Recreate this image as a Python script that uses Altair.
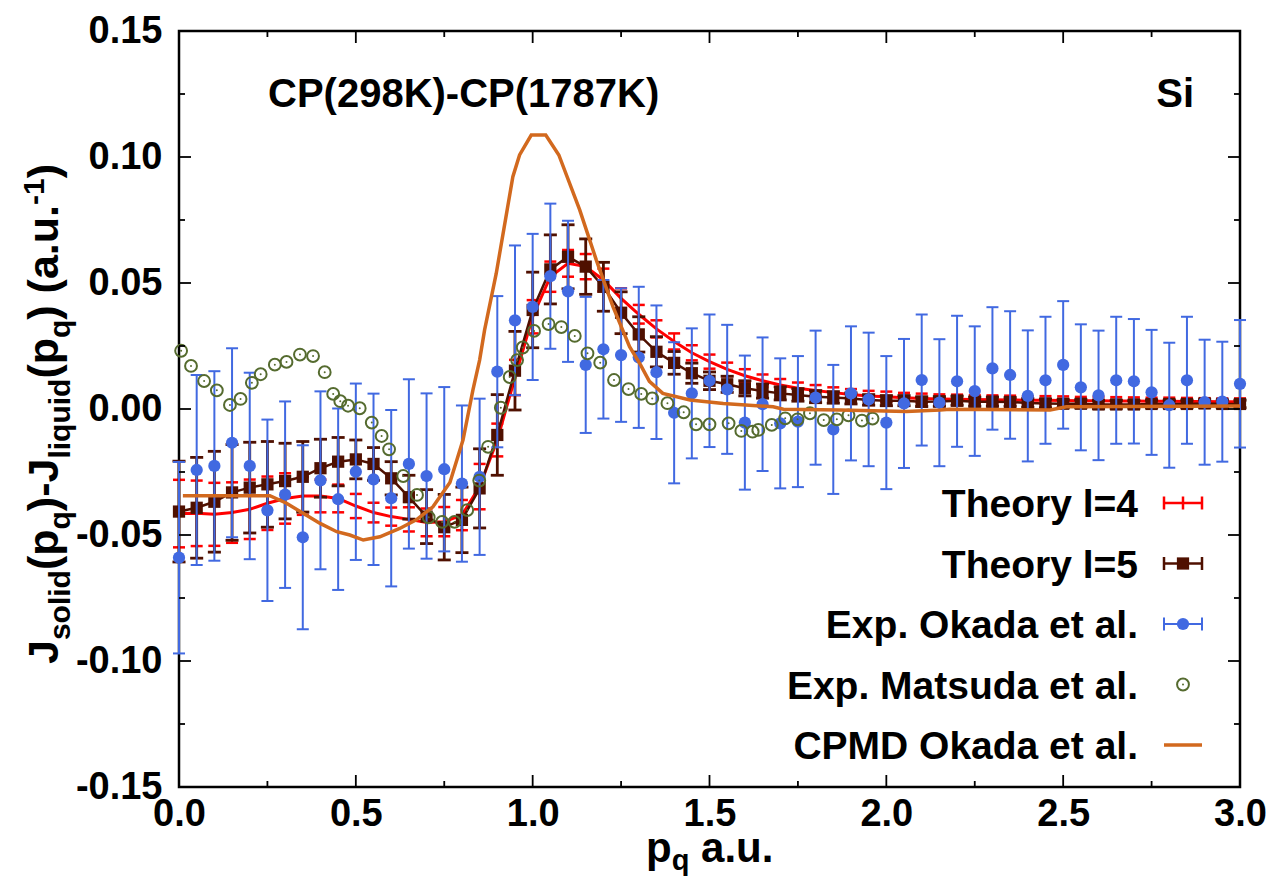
import altair as alt
import pandas as pd

# ---------------- data ----------------
P = [0.00, 0.05, 0.10, 0.15, 0.20, 0.25, 0.30, 0.35, 0.40, 0.45,
     0.50, 0.55, 0.60, 0.65, 0.70, 0.75, 0.80, 0.85, 0.90, 0.95,
     1.00, 1.05, 1.10, 1.15, 1.20, 1.25, 1.30, 1.35, 1.40, 1.45,
     1.50, 1.55, 1.60, 1.65, 1.70, 1.75, 1.80, 1.85, 1.90, 1.95,
     2.00, 2.05, 2.10, 2.15, 2.20, 2.25, 2.30, 2.35, 2.40, 2.45,
     2.50, 2.55, 2.60, 2.65, 2.70, 2.75, 2.80, 2.85, 2.90, 2.95,
     3.00]

okada_y = [-0.0590, -0.0242, -0.0226, -0.0134, -0.0226, -0.0402, -0.0340, -0.0509, -0.0283, -0.0358,
           -0.0249, -0.0279, -0.0354, -0.0218, -0.0266, -0.0239, -0.0296, -0.0269, 0.0148, 0.0352,
           0.0405, 0.0527, 0.0467, 0.0175, 0.0237, 0.0214, 0.0205, 0.0146, -0.0015, 0.0062,
           0.0112, 0.0078, -0.0054, 0.0019, -0.0057, -0.0050, 0.0045, -0.0081, 0.0062, 0.0038,
           -0.0054, 0.0022, 0.0115, 0.0025, 0.0110, 0.0071, 0.0161, 0.0135, 0.0052, 0.0114,
           0.0175, 0.0086, 0.0054, 0.0114, 0.0110, 0.0066, 0.0015, 0.0114, 0.0027, 0.0029,
           0.0100]
okada_err = [0.0380, 0.0377, 0.0376, 0.0375, 0.0370, 0.0360, 0.0370, 0.0365, 0.0353, 0.0360,
             0.0350, 0.0340, 0.0350, 0.0336, 0.0328, 0.0326, 0.0310, 0.0310, 0.0300, 0.0297,
             0.0290, 0.0288, 0.0280, 0.0270, 0.0275, 0.0265, 0.0280, 0.0265, 0.0280, 0.0258,
             0.0263, 0.0256, 0.0266, 0.0265, 0.0258, 0.0260, 0.0266, 0.0256, 0.0266, 0.0265,
             0.0264, 0.0256, 0.0260, 0.0252, 0.0260, 0.0257, 0.0243, 0.0253, 0.0260, 0.0252,
             0.0253, 0.0250, 0.0257, 0.0252, 0.0247, 0.0248, 0.0248, 0.0252, 0.0248, 0.0238,
             0.0253]

th4_y = [-0.0415, -0.0414, -0.0418, -0.0411, -0.0398, -0.0374, -0.0355, -0.0345, -0.0345, -0.0355,
         -0.0385, -0.0411, -0.0427, -0.0438, -0.0450, -0.0447, -0.0421, -0.0308, -0.0123, 0.0125,
         0.0366, 0.0525, 0.0578, 0.0565, 0.0512, 0.0439, 0.0376, 0.0318, 0.0268, 0.0223,
         0.0188, 0.0157, 0.0132, 0.0112, 0.0095, 0.0082, 0.0073, 0.0065, 0.0058, 0.0052,
         0.0049, 0.0045, 0.0042, 0.0040, 0.0039, 0.0038, 0.0037, 0.0036, 0.0035, 0.0035,
         0.0034, 0.0033, 0.0033, 0.0032, 0.0032, 0.0031, 0.0031, 0.0030, 0.0030, 0.0029,
         0.0029]
th4_err = [0.0134, 0.0130, 0.0125, 0.0120, 0.0118, 0.0106, 0.0100, 0.0075, 0.0065, 0.0055,
           0.0048, 0.0039, 0.0036, 0.0048, 0.0055, 0.0058, 0.0060, 0.0090, 0.0065, 0.0070,
           0.0066, 0.0060, 0.0053, 0.0050, 0.0045, 0.0040, 0.0037, 0.0034, 0.0032, 0.0030,
           0.0028, 0.0027, 0.0026, 0.0025, 0.0024, 0.0023, 0.0022, 0.0021, 0.0021, 0.0020,
           0.0020, 0.0019, 0.0019, 0.0018, 0.0018, 0.0017, 0.0017, 0.0017, 0.0016, 0.0016,
           0.0016, 0.0015, 0.0015, 0.0015, 0.0014, 0.0014, 0.0014, 0.0014, 0.0013, 0.0013,
           0.0013]

th5_y = [-0.0407, -0.0392, -0.0368, -0.0331, -0.0312, -0.0299, -0.0286, -0.0269, -0.0235, -0.0209,
         -0.0200, -0.0218, -0.0275, -0.0350, -0.0427, -0.0469, -0.0440, -0.0315, -0.0103, 0.0152,
         0.0393, 0.0554, 0.0604, 0.0565, 0.0485, 0.0382, 0.0296, 0.0227, 0.0183, 0.0142,
         0.0112, 0.0098, 0.0082, 0.0071, 0.0062, 0.0056, 0.0049, 0.0046, 0.0042, 0.0036,
         0.0033, 0.0033, 0.0029, 0.0030, 0.0033, 0.0029, 0.0029, 0.0028, 0.0024, 0.0022,
         0.0021, 0.0021, 0.0018, 0.0018, 0.0018, 0.0020, 0.0020, 0.0020, 0.0022, 0.0020,
         0.0020]
th5_err = [0.0200, 0.0200, 0.0200, 0.0190, 0.0180, 0.0170, 0.0150, 0.0140, 0.0115, 0.0096,
           0.0077, 0.0065, 0.0066, 0.0087, 0.0107, 0.0130, 0.0130, 0.0157, 0.0160, 0.0156,
           0.0150, 0.0137, 0.0127, 0.0110, 0.0097, 0.0083, 0.0070, 0.0060, 0.0045, 0.0040,
           0.0035, 0.0032, 0.0030, 0.0028, 0.0026, 0.0025, 0.0024, 0.0023, 0.0022, 0.0021,
           0.0020, 0.0020, 0.0019, 0.0019, 0.0018, 0.0018, 0.0018, 0.0017, 0.0017, 0.0017,
           0.0016, 0.0016, 0.0016, 0.0016, 0.0015, 0.0015, 0.0015, 0.0015, 0.0015, 0.0015,
           0.0015]

mat_x = [0.006, 0.034, 0.071, 0.107, 0.144, 0.174, 0.206, 0.231, 0.271, 0.304,
         0.342, 0.379, 0.412, 0.436, 0.456, 0.478, 0.511, 0.545, 0.573, 0.594,
         0.634, 0.673, 0.706, 0.744, 0.779, 0.815, 0.849, 0.874, 0.910, 0.935,
         0.956, 0.972, 1.004, 1.045, 1.081, 1.119, 1.155, 1.191, 1.230, 1.271,
         1.307, 1.338, 1.381, 1.427, 1.462, 1.500, 1.554, 1.590, 1.622, 1.638,
         1.676, 1.714, 1.749, 1.784, 1.823, 1.860, 1.893, 1.931, 1.961]
mat_y = [0.0231, 0.0171, 0.0111, 0.0074, 0.0016, 0.0040, 0.0104, 0.0138, 0.0176, 0.0187,
         0.0216, 0.0210, 0.0146, 0.0060, 0.0031, 0.0013, 0.0003, -0.0054, -0.0107, -0.0160,
         -0.0266, -0.0341, -0.0430, -0.0448, -0.0448, -0.0401, -0.0284, -0.0150, 0.0005, 0.0127,
         0.0194, 0.0244, 0.0310, 0.0337, 0.0325, 0.0290, 0.0221, 0.0184, 0.0115, 0.0079,
         0.0060, 0.0042, 0.0023, -0.0013, -0.0061, -0.0061, -0.0057, -0.0087, -0.0090, -0.0083,
         -0.0063, -0.0037, -0.0041, -0.0017, -0.0044, -0.0041, -0.0025, -0.0046, -0.0038]

cpmd_x = [0.011, 0.257, 0.304, 0.351, 0.399, 0.446, 0.483, 0.521, 0.568, 0.624,
          0.671, 0.718, 0.766, 0.803, 0.831, 0.850, 0.864, 0.897, 0.944, 0.963,
          0.996, 1.037, 1.074, 1.133, 1.180, 1.227, 1.274, 1.305, 1.330, 1.368,
          1.445, 1.539, 1.680, 1.709, 1.869, 2.057, 2.152, 2.180, 2.463, 2.509,
          2.850, 3.000]
cpmd_y = [-0.0344, -0.0344, -0.0374, -0.0414, -0.0454, -0.0487, -0.0500, -0.0520, -0.0507, -0.0474,
          -0.0440, -0.0388, -0.0292, -0.0123, 0.0075, 0.0194, 0.0313, 0.0538, 0.0922, 0.1008,
          0.1087, 0.1087, 0.1008, 0.0790, 0.0591, 0.0406, 0.0247, 0.0175, 0.0110, 0.0062,
          0.0036, 0.0022, 0.0009, -0.0001, -0.0004, -0.0010, -0.0004, -0.0001, -0.0004, 0.0009,
          0.0011, 0.0012]

x_major = [0.0, 0.5, 1.0, 1.5, 2.0, 2.5, 3.0]
x_minor = [0.25, 0.75, 1.25, 1.75, 2.25, 2.75]
y_major = [-0.15, -0.10, -0.05, 0.0, 0.05, 0.10, 0.15]
y_minor = [-0.125, -0.075, -0.025, 0.025, 0.075, 0.125]

legend_labels = ["Theory l=4", "Theory l=5", "Exp. Okada et al.",
                 "Exp. Matsuda et al.", "CPMD Okada et al."]

# ---------------- styling ----------------
FONT = "Liberation Sans, Arial, Helvetica, sans-serif"
RED = "#ff0000"
BROWN = "#4f1000"
BLUE = "#4169e1"
GREEN = "#556b2f"
ORANGE = "#d2691e"

OX, OY = 179, 31          # plot origin inside the page
W, H = 1061, 756
xs = alt.Scale(domain=[0, 3], nice=False, zero=False)
ys = alt.Scale(domain=[-0.15, 0.15], nice=False, zero=False)

xaxis = alt.Axis(values=x_major, format=".1f", title="", grid=False, ticks=False,
                 domain=False, labelFont=FONT, labelFontSize=38, labelFontWeight="bold",
                 labelColor="black", labelPadding=8, labelFlush=False, labelOverlap=False)
yaxis = alt.Axis(values=y_major, title="", grid=False, ticks=False, domain=False,
                 labelExpr="datum.value < 0 ? '-' + format(-datum.value, '.2f') : format(datum.value, '.2f')",
                 labelFont=FONT, labelFontSize=38, labelFontWeight="bold",
                 labelColor="black", labelPadding=17, labelFlush=False, labelOverlap=False)


def X(f):
    return alt.X(f"{f}:Q", scale=xs, axis=xaxis)


def Y(f):
    return alt.Y(f"{f}:Q", scale=ys, axis=yaxis)


def frame(x, y, err):
    return pd.DataFrame({"x": x, "y": y,
                         "lo": [a - b for a, b in zip(y, err)],
                         "hi": [a + b for a, b in zip(y, err)]})


def caps(df):
    return pd.DataFrame({"x": list(df["x"]) * 2, "y": list(df["lo"]) + list(df["hi"])})


CAP = "M-1,0L1,0"

d4 = frame(P, th4_y, th4_err)
d5 = frame(P, th5_y, th5_err)
dok = frame(P, okada_y, okada_err)
dmat = pd.DataFrame({"x": mat_x, "y": mat_y})
dcp = pd.DataFrame({"x": cpmd_x, "y": cpmd_y})

layers = []

# Theory l=4
layers.append(alt.Chart(d4).mark_rule(color=RED, strokeWidth=2).encode(x=X("x"), y=Y("lo"), y2=alt.Y2("hi")))
layers.append(alt.Chart(caps(d4)).mark_point(shape=CAP, size=144, filled=False, color=RED,
                                             strokeWidth=2.5, opacity=1).encode(x=X("x"), y=Y("y")))
layers.append(alt.Chart(d4).mark_line(color=RED, strokeWidth=3).encode(x=X("x"), y=Y("y")))
# Theory l=5
layers.append(alt.Chart(d5).mark_rule(color=BROWN, strokeWidth=2.8).encode(x=X("x"), y=Y("lo"), y2=alt.Y2("hi")))
layers.append(alt.Chart(caps(d5)).mark_point(shape=CAP, size=170, filled=False, color=BROWN,
                                             strokeWidth=2.8, opacity=1).encode(x=X("x"), y=Y("y")))
layers.append(alt.Chart(d5).mark_line(color=BROWN, strokeWidth=2.5).encode(x=X("x"), y=Y("y")))
layers.append(alt.Chart(d5).mark_square(size=150, color=BROWN, opacity=1).encode(x=X("x"), y=Y("y")))
# Exp Okada
layers.append(alt.Chart(dok).mark_rule(color=BLUE, strokeWidth=2).encode(x=X("x"), y=Y("lo"), y2=alt.Y2("hi")))
layers.append(alt.Chart(caps(dok)).mark_point(shape=CAP, size=144, filled=False, color=BLUE,
                                              strokeWidth=2, opacity=1).encode(x=X("x"), y=Y("y")))
layers.append(alt.Chart(dok).mark_circle(size=150, color=BLUE, opacity=1).encode(x=X("x"), y=Y("y")))
# Exp Matsuda
layers.append(alt.Chart(dmat).mark_point(shape="circle", size=140, filled=False, color=GREEN,
                                         strokeWidth=2, opacity=1).encode(x=X("x"), y=Y("y")))
layers.append(alt.Chart(dmat).mark_circle(size=4, color=GREEN, opacity=1).encode(x=X("x"), y=Y("y")))
# CPMD
layers.append(alt.Chart(dcp).mark_line(color=ORANGE, strokeWidth=3.5).encode(x=X("x"), y=Y("y")))

# ---------------- inward ticks on all four sides ----------------
XM, XN = 12 / 353.7, 6 / 353.7
YM, YN = 12 / 2520, 6 / 2520


def tickframe(vals, a, b):
    return pd.DataFrame({"t": vals, "a": [a] * len(vals), "b": [b] * len(vals)})


tick_specs = [
    (tickframe(x_major, -0.15, -0.15 + YM), "x"), (tickframe(x_minor, -0.15, -0.15 + YN), "x"),
    (tickframe(x_major, 0.15, 0.15 - YM), "x"), (tickframe(x_minor, 0.15, 0.15 - YN), "x"),
    (tickframe(y_major, 0.0, XM), "y"), (tickframe(y_minor, 0.0, XN), "y"),
    (tickframe(y_major, 3.0, 3.0 - XM), "y"), (tickframe(y_minor, 3.0, 3.0 - XN), "y"),
]
for df, kind in tick_specs:
    if kind == "x":
        enc = dict(x=X("t"), y=Y("a"), y2=alt.Y2("b"))
    else:
        enc = dict(y=Y("t"), x=X("a"), x2=alt.X2("b"))
    layers.append(alt.Chart(df).mark_rule(color="black", strokeWidth=1.8).encode(**enc))

# ---------------- text & legend decorations (page pixel coords -> plot coords) ----------------
one = pd.DataFrame({"k": [0]})


def txt(s, x, y, size, align="left", angle=0):
    return alt.Chart(one).mark_text(text=s, font=FONT, fontSize=size, fontWeight="bold",
                                    align=align, baseline="alphabetic", angle=angle,
                                    color="black").encode(x=alt.value(x - OX), y=alt.value(y - OY))


def hrule(x1, x2, y, color, sw):
    return alt.Chart(one).mark_rule(color=color, strokeWidth=sw).encode(
        x=alt.value(x1 - OX), x2=alt.value(x2 - OX), y=alt.value(y - OY))


def vrule(x, y1, y2, color, sw):
    return alt.Chart(one).mark_rule(color=color, strokeWidth=sw).encode(
        x=alt.value(x - OX), y=alt.value(y1 - OY), y2=alt.value(y2 - OY))


def dot(x, y, mark):
    return alt.Chart(one).mark_point(**mark).encode(x=alt.value(x - OX), y=alt.value(y - OY))


# top labels
layers.append(txt("CP(298K)-CP(1787K)", 268, 107, 40))
layers.append(txt("Si", 1194, 107, 40, align="right"))

# x axis title with subscript
AW = {"J": .556, "s": .556, "o": .611, "l": .278, "i": .278, "d": .611, "(": .333, ")": .333,
      "p": .611, "q": .611, "-": .333, "u": .611, "a": .556, ".": .278, " ": .278, "1": .556}


def tw(s, size):
    return sum(AW.get(c, .556) for c in s) * size


xt_x = 646
layers.append(txt("p", xt_x, 862, 42))
xt_x += tw("p", 42)
layers.append(txt("q", xt_x, 870, 29))
xt_x += tw("q", 29) + tw(" ", 42)
layers.append(txt("a.u.", xt_x, 862, 42))

# y axis title (rotated) with sub/superscripts
pieces = [("J", "m"), ("solid", "s"), ("(p", "m"), ("q", "s"), (")-J", "m"), ("liquid", "s"),
          ("(p", "m"), ("q", "s"), (") (a.u.", "m"), ("-1", "u"), (")", "m")]
fs = {"m": 43, "s": 30, "u": 30}
bx = {"m": 58, "s": 70, "u": 44}
yy = 664
for s, k in pieces:
    layers.append(txt(s, bx[k], yy, fs[k], angle=270))
    yy -= tw(s, fs[k])

# legend
rows = [503, 563.5, 624, 684.5, 745]
L1, L2, LC = 1164, 1202, 1183
for lab, ry in zip(legend_labels, rows):
    layers.append(txt(lab, 1138, ry + 14, 39, align="right"))
# Theory l=4
layers += [hrule(L1, L2, rows[0], RED, 2.5), vrule(L1, rows[0] - 6.5, rows[0] + 6.5, RED, 2.5),
           vrule(L2, rows[0] - 6.5, rows[0] + 6.5, RED, 2.5), vrule(LC, rows[0] - 6.5, rows[0] + 6.5, RED, 2.5)]
# Theory l=5
layers += [hrule(L1, L2, rows[1], BROWN, 2.5), vrule(L1, rows[1] - 6.5, rows[1] + 6.5, BROWN, 2.5),
           vrule(L2, rows[1] - 6.5, rows[1] + 6.5, BROWN, 2.5),
           dot(LC, rows[1], dict(shape="square", size=150, filled=True, color=BROWN, opacity=1))]
# Okada
layers += [hrule(L1, L2, rows[2], BLUE, 2), vrule(L1, rows[2] - 6.5, rows[2] + 6.5, BLUE, 2),
           vrule(L2, rows[2] - 6.5, rows[2] + 6.5, BLUE, 2),
           dot(LC, rows[2], dict(shape="circle", size=150, filled=True, color=BLUE, opacity=1))]
# Matsuda
layers += [dot(LC, rows[3], dict(shape="circle", size=140, filled=False, color=GREEN, strokeWidth=2, opacity=1)),
           dot(LC, rows[3], dict(shape="circle", size=4, filled=True, color=GREEN, opacity=1))]
# CPMD
layers += [hrule(L1, L2, rows[4], ORANGE, 3.5)]

chart = alt.layer(*layers).properties(
    width=W, height=H,
    autosize=alt.AutoSizeParams(type="none"),
    padding={"left": OX, "top": OY, "right": 33, "bottom": 91},
    background="white",
).configure_view(stroke="black", strokeWidth=2.5)

chart.save("out.html", embed_options={"renderer": "svg", "actions": False})
